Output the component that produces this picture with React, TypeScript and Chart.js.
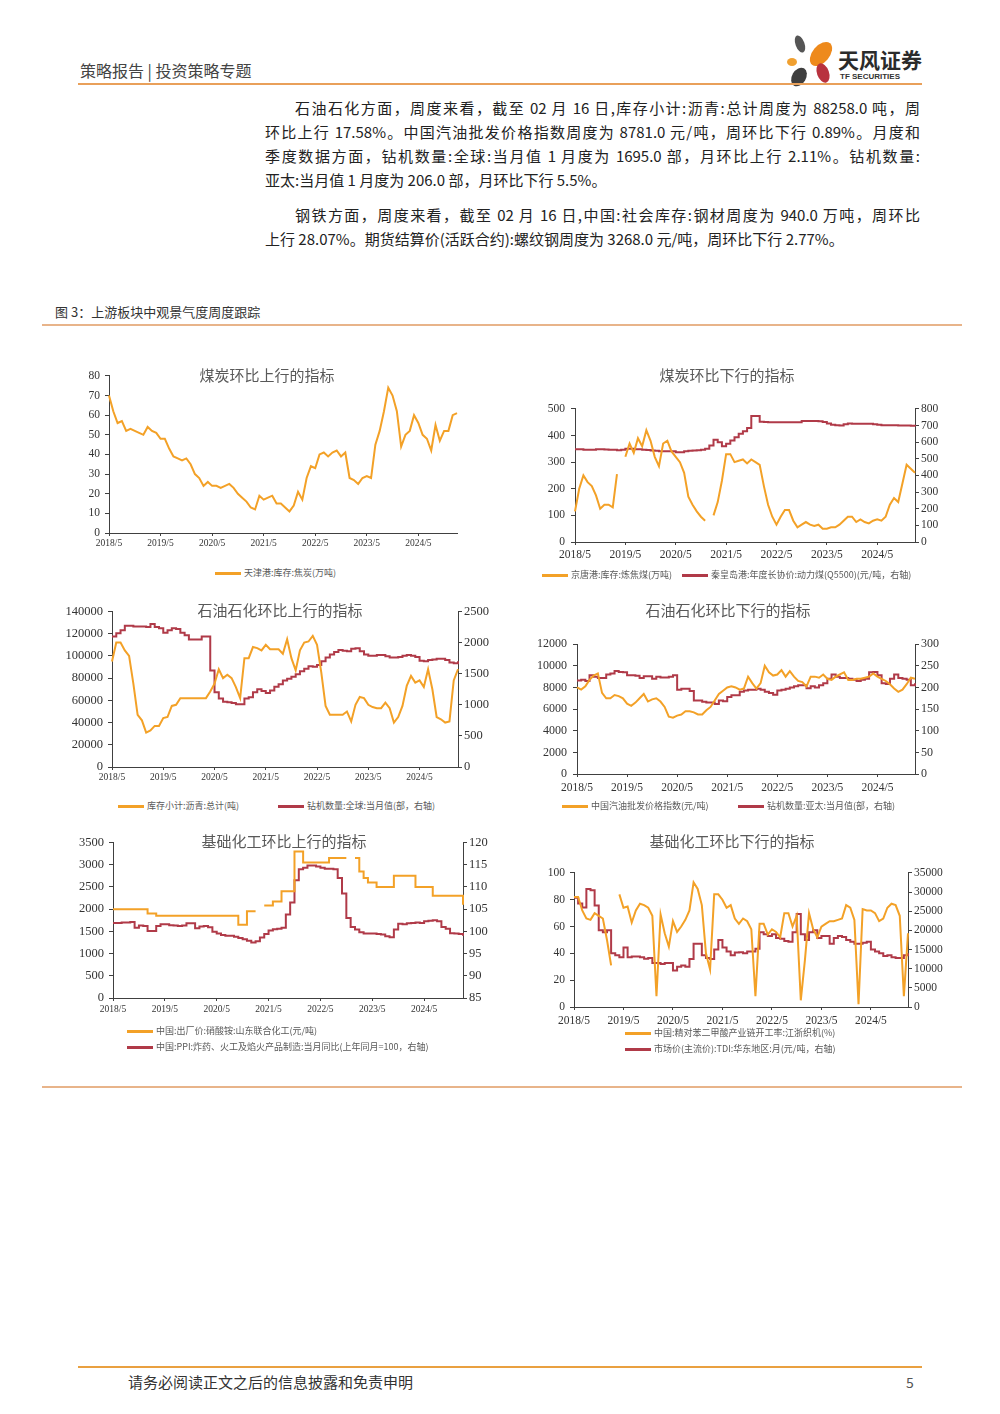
import React, { useEffect, useRef } from 'react';
import { Chart, registerables } from 'chart.js';
Chart.register(...registerables);

const ORANGE = '#F3A127';
const RED = '#B03A48';
const AXIS = '#404040';
const TICK_TXT = '#333333';
const SERIF = '"Liberation Serif", "DejaVu Serif", serif';
const CJK = '"Noto Sans CJK SC", "Noto Sans", sans-serif';

// monthly categories 2018/5 .. 2025/2
const monthLabels: string[] = [];
for (let i = 0; i < 82; i++) {
  const y = 2018 + Math.floor((i + 4) / 12);
  const m = ((i + 4) % 12) + 1;
  monthLabels.push(`${y}/${m}`);
}

// Chart 1: 天津港:库存:焦炭(万吨)
const tjCoke = [70,62,56,57,52,53,52,51,50,54,52,51,
  48,48,43,39,38,37,38,35,30,28,24,26,
  24,24,23,24,25,23,20,18,16,13,12,19,
  17,18,19,15,15,13,11,14,21,17,28,34,
  33,40,41,39,41,42,39,41,28,27,25,28,
  29,28,45,52,62,74,70,62,44,50,52,60,
  56,50,48,42,55,47,52,52,60,61];

// Chart 2
const jtCoking = [115,200,250,225,210,175,125,140,140,130,255,null,
  320,370,335,390,360,420,380,320,285,370,380,340,
  320,300,260,170,140,115,95,80,null,100,150,230,
  330,330,300,305,310,295,310,300,290,210,140,95,
  65,95,120,120,80,55,65,75,65,60,65,50,
  50,55,55,65,80,95,95,75,85,75,70,80,
  85,80,95,140,165,150,220,290,275,260];
const qhdPrice = [557,557,555,555,555,557,557,556,555,555,552,555,
  560,560,558,557,555,553,550,548,545,545,545,545,
  540,540,545,548,550,552,555,560,580,615,600,575,
  590,610,630,650,665,685,758,758,723,722,720,720,
  720,720,720,720,720,720,728,728,728,728,726,722,
  712,705,702,700,708,712,710,710,710,710,710,708,
  705,702,702,702,702,700,700,700,698,695];

// Chart 3
const asphaltInv = [95000,112000,112000,105000,100000,75000,47000,42000,31000,33000,37000,37000,
  44000,45000,55000,56000,62000,62000,62000,62000,62000,62000,62000,68000,
  75000,88000,80000,83000,80000,72000,62000,98000,98000,108000,107000,105000,
  110000,106000,106000,106000,102000,115000,98000,87000,105000,112000,113000,118000,
  110000,85000,55000,47000,47000,47000,47000,50000,41000,56000,63000,62000,
  56000,54000,53000,53000,58000,53000,40000,45000,55000,73000,82000,76000,
  78000,72000,88000,70000,45000,43000,40000,41000,78000,88000];
const rigGlobal = [2100,2150,2200,2270,2270,2260,2260,2260,2250,2300,2250,2230,
  2160,2200,2230,2220,2160,2120,2050,2050,2050,2100,2100,1550,
  1200,1100,1050,1040,1030,1010,1010,1100,1120,1200,1250,1220,
  1190,1230,1290,1330,1390,1420,1450,1490,1540,1580,1620,1610,
  1640,1700,1760,1810,1850,1880,1870,1860,1900,1910,1860,1810,
  1790,1790,1800,1800,1780,1760,1760,1770,1790,1800,1790,1770,
  1710,1700,1720,1730,1740,1740,1720,1680,1670,1700];

// Chart 4
const gasIndex = [8000,7800,8100,8700,9100,9300,7500,7000,7000,7300,7200,7000,
  6500,6300,6600,7000,7400,6700,6900,7000,6700,6200,5300,5200,
  5400,5500,5800,5800,5700,5500,5500,5900,6200,6800,7400,7700,
  8000,8100,8000,7800,7900,9000,8400,7900,8400,10000,9400,9100,
  9200,9600,9000,9500,9000,8600,8500,8100,9000,9000,8900,9200,
  8800,8700,9000,9200,9400,8700,8700,8800,8800,8900,9000,9300,
  9000,8800,8600,8300,7900,7600,7800,8300,8900,8800];
const rigAsia = [216,218,215,228,225,222,222,230,232,238,236,235,
  228,228,227,222,226,226,220,225,223,223,225,228,
  195,197,197,192,170,170,167,165,165,162,170,168,
  178,182,182,190,193,195,195,197,195,190,187,183,
  193,195,197,200,203,205,205,198,203,200,205,210,
  220,230,225,222,222,220,218,215,218,220,235,236,
  228,210,208,220,230,222,220,218,205,210];

// Chart 5
const anPrice = [2000,2000,2000,2000,2000,2000,2000,2000,1900,1900,1850,1850,
  1850,1850,1850,1850,1850,1850,1850,1850,1850,1850,1850,1850,
  1850,1850,1850,1850,1850,1650,1650,1950,1950,1950,null,2080,
  2080,2170,2170,2400,2400,2400,3300,3300,3050,3050,3050,3050,
  3050,3050,3150,3150,3150,3150,3150,null,3150,2850,2700,2600,
  2600,2500,2500,2500,2500,2750,2750,2750,2750,2750,2500,2500,
  2500,2500,2300,2300,2300,2300,2300,2300,2300,2100];
const ppiExpl = [101.9,101.9,102.0,102.0,102.1,100.8,101.3,101.2,100.1,100.1,101.2,101.6,
  101.6,101.4,101.3,101.2,101.3,101.8,101.8,100.7,101.1,101.2,100.9,99.9,
  99.5,99.2,99.0,99.0,98.8,98.5,98.2,97.9,97.5,97.8,98.6,99.4,
  100.2,100.5,100.6,100.8,103.8,106.5,111.5,114.0,114.3,114.8,114.8,114.6,
  114.3,114.1,114.1,114.0,112.0,108.5,103.0,101.0,100.4,99.8,99.5,99.5,
  99.5,99.4,99.3,98.9,98.7,100.4,101.7,101.6,101.8,101.9,102.0,101.9,
  102.3,102.4,102.5,102.3,101.0,100.6,99.6,99.5,99.4,99.0];

// Chart 6
const ptaRate = [82,82,72,66,65,70,68,66,50,31,null,84,
  74,75,63,72,77,76,74,68,8,69,55,45,
  64,56,60,65,72,93,88,76,40,28,84,84,
  80,74,76,66,62,66,64,58,8,62,62,54,
  58,56,52,70,70,60,68,5,35,70,58,52,
  60,62,64,64,65,66,76,74,65,2,73,72,
  72,70,64,66,74,77,76,68,8,55];
const tdiPrice = [28500,27000,26000,30800,30500,26500,20000,19500,20000,14000,13500,13000,
  15500,13000,13200,13200,13000,12600,12800,11500,11500,11200,11500,11500,
  9500,10500,10800,10500,12500,16500,16500,13500,12800,12500,15000,17500,
  15500,14500,13500,14200,14300,14000,14500,14500,15200,19500,19000,18500,
  19000,18000,17800,17200,17000,19500,24300,19000,17500,19500,20000,18000,
  18500,18500,16500,18000,18500,18300,17500,17000,16500,16500,16800,17000,
  15000,14500,14000,13300,13500,13000,12800,12800,13500,14000];

type AxisSpec = { min: number; max: number; step: number };
type Series = { data: (number | null)[]; color: string; axis: 'y' | 'y1'; stepped?: boolean };
type ChartSpec = {
  plot: { l: number; r: number; t: number; b: number };
  y: AxisSpec;
  y1?: AxisSpec;
  xFont: number;
  yFont: number;
  xPad: number;
  yPad: number;
  series: Series[];
};

const LEFT_W = 60;
const RIGHT_W = 45;
const TOP_PAD = 10;
const BOT_H = 30;

function yAxis(spec: AxisSpec, pos: 'left' | 'right', font: number, pad: number) {
  return {
    type: 'linear',
    position: pos,
    min: spec.min,
    max: spec.max,
    ticks: {
      stepSize: spec.step,
      autoSkip: false,
      padding: pad,
      color: TICK_TXT,
      font: { family: SERIF, size: font },
      callback: (v: any) => String(v),
    },
    grid: { drawOnChartArea: false, drawTicks: true, tickLength: 4, tickColor: AXIS, color: AXIS },
    border: { display: true, color: AXIS, width: 1 },
    afterFit: (s: any) => {
      s.width = pos === 'left' ? LEFT_W : RIGHT_W;
    },
  };
}

function LineChart({ spec }: { spec: ChartSpec }) {
  const ref = useRef<HTMLCanvasElement>(null);
  const { l, r, t, b } = spec.plot;
  const w = r - l + LEFT_W + (spec.y1 ? RIGHT_W : 10);
  const h = b - t + TOP_PAD + BOT_H;
  useEffect(() => {
    const scales: any = {
      x: {
        type: 'category',
        offset: false,
        grid: {
          display: true,
          drawOnChartArea: false,
          drawTicks: true,
          tickLength: 3,
          color: AXIS,
          tickColor: (ctx: any) => (ctx.index % 12 === 0 ? AXIS : 'rgba(0,0,0,0)'),
        },
        border: { display: true, color: AXIS, width: 1 },
        ticks: {
          autoSkip: false,
          maxRotation: 0,
          minRotation: 0,
          padding: spec.xPad,
          color: TICK_TXT,
          font: { family: SERIF, size: spec.xFont },
          callback: (_v: any, i: number) => (i % 12 === 0 ? monthLabels[i] : ''),
        },
        afterFit: (s: any) => {
          s.height = BOT_H;
        },
      },
      y: yAxis(spec.y, 'left', spec.yFont, spec.yPad),
    };
    if (spec.y1) scales.y1 = yAxis(spec.y1, 'right', spec.yFont, 2);
    const chart = new Chart(ref.current as HTMLCanvasElement, {
      type: 'line',
      data: {
        labels: monthLabels,
        datasets: spec.series.map((s) => ({
          data: s.data,
          borderColor: s.color,
          backgroundColor: s.color,
          borderWidth: 2,
          pointRadius: 0,
          fill: false,
          tension: 0,
          stepped: s.stepped ? true : false,
          spanGaps: false,
          yAxisID: s.axis,
        })),
      },
      options: {
        responsive: false,
        maintainAspectRatio: false,
        animation: false,
        events: [],
        layout: { padding: { left: 0, right: spec.y1 ? 0 : 10, top: TOP_PAD, bottom: 0 } },
        plugins: { legend: { display: false }, title: { display: false }, tooltip: { enabled: false } },
        scales,
      } as any,
    });
    return () => chart.destroy();
  }, []);
  return (
    <div style={{ position: 'absolute', left: l - LEFT_W, top: t - TOP_PAD, width: w, height: h }}>
      <canvas ref={ref} width={w} height={h} style={{ width: w, height: h, display: 'block' }} />
    </div>
  );
}

const charts: { spec: ChartSpec; title: string; tx: number; ty: number; legend: { color: string; text: string; x: number; y: number }[] }[] = [
  {
    spec: { plot: { l: 109, r: 457, t: 374, b: 533 }, y: { min: 0, max: 80, step: 10 }, xFont: 9.5, yFont: 11.5, xPad: 1.5, yPad: 5,
      series: [{ data: tjCoke, color: ORANGE, axis: 'y' }] },
    title: '煤炭环比上行的指标', tx: 267, ty: 375,
    legend: [{ color: ORANGE, text: '天津港:库存:焦炭(万吨)', x: 215, y: 573 }],
  },
  {
    spec: { plot: { l: 575, r: 915, t: 406, b: 542 }, y: { min: 0, max: 500, step: 100 }, y1: { min: 0, max: 800, step: 100 }, xFont: 11.5, yFont: 11.5, xPad: 3, yPad: 6,
      series: [{ data: jtCoking, color: ORANGE, axis: 'y' }, { data: qhdPrice, color: RED, axis: 'y1', stepped: true }] },
    title: '煤炭环比下行的指标', tx: 727, ty: 375,
    legend: [
      { color: ORANGE, text: '京唐港:库存:炼焦煤(万吨)', x: 542, y: 575 },
      { color: RED, text: '秦皇岛港:年度长协价:动力煤(Q5500)(元/吨，右轴)', x: 682, y: 575 },
    ],
  },
  {
    spec: { plot: { l: 112, r: 458, t: 609, b: 767 }, y: { min: 0, max: 140000, step: 20000 }, y1: { min: 0, max: 2500, step: 500 }, xFont: 9.5, yFont: 12.5, xPad: 1.5, yPad: 5,
      series: [{ data: asphaltInv, color: ORANGE, axis: 'y' }, { data: rigGlobal, color: RED, axis: 'y1', stepped: true }] },
    title: '石油石化环比上行的指标', tx: 280, ty: 610,
    legend: [
      { color: ORANGE, text: '库存小计:沥青:总计(吨)', x: 118, y: 806 },
      { color: RED, text: '钻机数量:全球:当月值(部，右轴)', x: 278, y: 806 },
    ],
  },
  {
    spec: { plot: { l: 577, r: 915, t: 641, b: 774 }, y: { min: 0, max: 12000, step: 2000 }, y1: { min: 0, max: 300, step: 50 }, xFont: 11.5, yFont: 12, xPad: 4, yPad: 6,
      series: [{ data: gasIndex, color: ORANGE, axis: 'y' }, { data: rigAsia, color: RED, axis: 'y1', stepped: true }] },
    title: '石油石化环比下行的指标', tx: 728, ty: 610,
    legend: [
      { color: ORANGE, text: '中国汽油批发价格指数(元/吨)', x: 562, y: 806 },
      { color: RED, text: '钻机数量:亚太:当月值(部，右轴)', x: 738, y: 806 },
    ],
  },
  {
    spec: { plot: { l: 113, r: 463, t: 840, b: 998 }, y: { min: 0, max: 3500, step: 500 }, y1: { min: 85, max: 120, step: 5 }, xFont: 9.5, yFont: 12.5, xPad: 3, yPad: 5,
      series: [{ data: anPrice, color: ORANGE, axis: 'y', stepped: true }, { data: ppiExpl, color: RED, axis: 'y1', stepped: true }] },
    title: '基础化工环比上行的指标', tx: 284, ty: 841,
    legend: [
      { color: ORANGE, text: '中国:出厂价:硝酸铵:山东联合化工(元/吨)', x: 127, y: 1031 },
      { color: RED, text: '中国:PPI:炸药、火工及焰火产品制造:当月同比(上年同月=100，右轴)', x: 127, y: 1047 },
    ],
  },
  {
    spec: { plot: { l: 574, r: 908, t: 871, b: 1007 }, y: { min: 0, max: 100, step: 20 }, y1: { min: 0, max: 35000, step: 5000 }, xFont: 11.5, yFont: 11.5, xPad: 4, yPad: 5,
      series: [{ data: ptaRate, color: ORANGE, axis: 'y' }, { data: tdiPrice, color: RED, axis: 'y1', stepped: true }] },
    title: '基础化工环比下行的指标', tx: 732, ty: 841,
    legend: [
      { color: ORANGE, text: '中国:精对苯二甲酸产业链开工率:江浙织机(%)', x: 625, y: 1033 },
      { color: RED, text: '市场价(主流价):TDI:华东地区:月(元/吨，右轴)', x: 625, y: 1049 },
    ],
  },
];

const paraLines = [
  { text: '石油石化方面，周度来看，截至 02 月 16 日,库存小计:沥青:总计周度为 88258.0 吨，周', x: 295, y: 108, w: 625, j: true },
  { text: '环比上行 17.58%。中国汽油批发价格指数周度为 8781.0 元/吨，周环比下行 0.89%。月度和', x: 265, y: 132, w: 655, j: true },
  { text: '季度数据方面，钻机数量:全球:当月值 1 月度为 1695.0 部，月环比上行 2.11%。钻机数量:', x: 265, y: 156, w: 655, j: true },
  { text: '亚太:当月值 1 月度为 206.0 部，月环比下行 5.5%。', x: 265, y: 180, w: 400, j: false },
  { text: '钢铁方面，周度来看，截至 02 月 16 日,中国:社会库存:钢材周度为 940.0 万吨，周环比', x: 295, y: 215, w: 625, j: true },
  { text: '上行 28.07%。期货结算价(活跃合约):螺纹钢周度为 3268.0 元/吨，周环比下行 2.77%。', x: 265, y: 239, w: 640, j: false },
];

const abs = (s: React.CSSProperties): React.CSSProperties => ({ position: 'absolute', ...s });

export default function App() {
  return (
    <div style={abs({ left: 0, top: 0, width: 1000, height: 1414, background: '#fff', overflow: 'hidden', fontFamily: CJK })}>
      {/* header */}
      <div style={abs({ left: 80, top: 59, fontSize: 16, lineHeight: '22px', color: '#444', whiteSpace: 'nowrap' })}>策略报告 | 投资策略专题</div>
      <svg style={abs({ left: 783, top: 32 })} width={58} height={58} viewBox="0 0 58 58">
        <ellipse cx={17} cy={12} rx={4.5} ry={9} transform="rotate(-20 17 12)" fill="#555" />
        <ellipse cx={38} cy={22} rx={8.5} ry={14} transform="rotate(40 38 22)" fill="#EE8A1C" />
        <ellipse cx={9} cy={30} rx={5} ry={4} fill="#F0A030" />
        <ellipse cx={40} cy={41} rx={6} ry={10} transform="rotate(-20 40 41)" fill="#B8323E" />
        <ellipse cx={16} cy={45} rx={7} ry={10} transform="rotate(30 16 45)" fill="#3f3f3f" />
      </svg>
      <div style={abs({ left: 838, top: 46, fontSize: 21, fontWeight: 700, lineHeight: '26px', color: '#2b2b2b', whiteSpace: 'nowrap' })}>天风证券</div>
      <div style={abs({ left: 840, top: 72, fontSize: 8, fontWeight: 700, lineHeight: '10px', color: '#333', whiteSpace: 'nowrap', fontFamily: '"Liberation Sans", sans-serif' })}>TF SECURITIES</div>
      <div style={abs({ left: 78, top: 83, width: 844, height: 2, background: '#E9A05A' })} />

      {/* paragraphs */}
      {paraLines.map((p, i) => (
        <div key={i} style={abs({ left: p.x, top: p.y - 12, width: p.w, height: 24, lineHeight: '24px', fontSize: 15, color: '#222', whiteSpace: 'nowrap', textAlign: p.j ? 'justify' : 'left', textAlignLast: p.j ? 'justify' : 'auto' } as any)}>{p.text}</div>
      ))}

      {/* figure caption */}
      <div style={abs({ left: 55, top: 303, fontSize: 13, lineHeight: '18px', color: '#333', whiteSpace: 'nowrap' })}>图 3：上游板块中观景气度周度跟踪</div>
      <div style={abs({ left: 42, top: 324, width: 920, height: 2, background: '#E8B48A' })} />

      {charts.map((c, i) => (
        <React.Fragment key={i}>
          <LineChart spec={c.spec} />
          <div style={abs({ left: c.tx - 150, top: c.ty - 11, width: 300, textAlign: 'center', fontSize: 15, lineHeight: '22px', color: '#595959', whiteSpace: 'nowrap' })}>{c.title}</div>
          {c.legend.map((lg, k) => (
            <React.Fragment key={k}>
              <div style={abs({ left: lg.x, top: lg.y - 1, width: 26, height: 2.5, background: lg.color })} />
              <div style={abs({ left: lg.x + 29, top: lg.y - 7, fontSize: 9, lineHeight: '14px', color: '#595959', whiteSpace: 'nowrap' })}>{lg.text}</div>
            </React.Fragment>
          ))}
        </React.Fragment>
      ))}

      <div style={abs({ left: 42, top: 1086, width: 920, height: 2, background: '#E8B48A' })} />

      {/* footer */}
      <div style={abs({ left: 78, top: 1366, width: 844, height: 2, background: '#E9A040' })} />
      <div style={abs({ left: 128, top: 1372, fontSize: 15, lineHeight: '20px', color: '#333', whiteSpace: 'nowrap' })}>请务必阅读正文之后的信息披露和免责申明</div>
      <div style={abs({ left: 906, top: 1372, fontSize: 14, lineHeight: '20px', color: '#555' })}>5</div>
    </div>
  );
}
